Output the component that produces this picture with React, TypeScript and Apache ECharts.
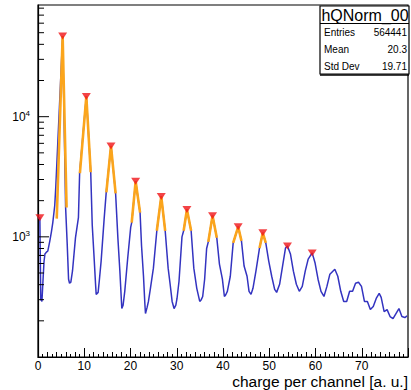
import { useEffect, useRef } from "react";
import * as echarts from "echarts";

// Histogram (bin centre, counts)
const histX = [0.1, 0.4, 0.6, 0.85, 1.07, 1.3, 1.5, 1.9, 2.13, 2.56, 2.9, 3.2, 3.62, 3.84, 5.33, 5.97, 6.3, 6.61, 6.82, 7.1, 7.46, 8.1, 8.74, 9.0, 10.45, 11.4, 11.73, 12.15, 12.45, 12.58, 13.0, 13.3, 13.65, 14.29, 14.75, 15.78, 16.78, 17.27, 17.7, 18.12, 18.4, 18.76, 19.4, 20.04, 20.26, 21.11, 22.07, 22.39, 22.81, 23.1, 23.24, 23.6, 23.88, 24.31, 24.95, 25.69, 26.65, 27.5, 28.14, 28.57, 29.0, 29.42, 29.8, 30.06, 30.49, 31.13, 31.49, 32.2, 33.11, 33.69, 34.33, 34.97, 35.3, 35.61, 36.03, 36.46, 36.82, 37.74, 38.66, 39.23, 39.87, 40.3, 40.6, 40.94, 41.58, 42.2, 43.28, 43.99, 44.56, 45.2, 45.63, 46.06, 46.48, 47.12, 47.9, 48.61, 49.25, 49.89, 50.53, 51.17, 51.6, 52.24, 52.88, 53.52, 53.94, 54.58, 55.22, 55.86, 56.5, 57.14, 57.78, 58.42, 59.28, 59.91, 60.55, 61.19, 61.83, 62.47, 63.11, 63.75, 64.18, 64.82, 65.46, 66.1, 66.74, 67.38, 68.02, 68.66, 69.3, 69.94, 70.58, 71.22, 71.86, 72.49, 73.13, 73.77, 74.2, 74.84, 75.48, 76.12, 76.76, 77.4, 78.04, 78.68, 79.32, 79.8];
const histY = [1440, 1440, 300, 290, 427, 620, 720, 750, 763, 926, 1100, 1311, 1822, 2581, 47000, 1753, 900, 444, 411, 420, 520, 981, 1444, 3383, 14730, 3450, 1250, 650, 400, 332, 345, 450, 628, 1390, 2343, 5706, 2298, 981, 520, 253, 270, 352, 666, 1200, 1311, 2899, 1591, 840, 470, 280, 230, 260, 290, 373, 549, 1123, 2168, 1123, 549, 403, 290, 253, 270, 307, 427, 1000, 1123, 1687, 1123, 549, 373, 290, 300, 319, 444, 800, 908, 1501, 981, 593, 444, 319, 330, 352, 470, 890, 1213, 926, 571, 470, 352, 332, 373, 518, 808, 1080, 890, 628, 470, 366, 345, 403, 571, 808, 840, 720, 518, 403, 352, 387, 518, 653, 735, 605, 444, 352, 319, 387, 489, 518, 538, 470, 352, 290, 290, 352, 352, 411, 419, 387, 290, 290, 248, 263, 307, 338, 313, 239, 248, 217, 209, 230, 253, 217, 213, 220];

// Found peaks (red markers)
const peakX = [0.4, 5.33, 10.45, 15.78, 21.11, 26.65, 32.2, 37.74, 43.28, 48.61, 53.94, 59.28];
const peakY = [1444, 47000, 14730, 5706, 2899, 2168, 1687, 1501, 1213, 1080, 840, 735];

// Gaussian fits around peaks 1..9 (orange): left end, apex, right end
const fitLeftX = [4.05, 9.06, 14.78, 20.26, 25.69, 31.49, 36.82, 42.2, 47.9];
const fitLeftY = [1417, 3383, 2343, 1311, 1123, 1123, 908, 890, 808];
const fitRightX = [6.18, 11.4, 16.78, 22.07, 27.5, 33.11, 38.66, 43.99, 49.25];
const fitRightY = [1753, 3450, 2298, 1591, 1123, 1123, 981, 926, 890];

// Axis ticks
const xLabels = [0, 10, 20, 30, 40, 50, 60, 70];
const yMajor = [1000, 10000];
const yMinor = [200, 300, 400, 500, 600, 700, 800, 900, 2000, 3000, 4000, 5000, 6000, 7000, 8000, 9000, 20000, 30000, 40000, 50000, 60000, 70000, 80000];

// Stats box
const statsTitle = "hQNorm_00";
const statsNames = ["Entries", "Mean", "Std Dev"];
const statsValues = ["564441", "20.3", "19.71"];

const FONT = "Liberation Sans, Arial, Helvetica, sans-serif";

export default function App() {
  const ref = useRef<HTMLDivElement>(null);
  useEffect(() => {
    const chart = echarts.init(ref.current!, null, { renderer: "svg" });
    const fitSeries = fitLeftX.map((xl, i) => ({
      type: "line",
      data: [
        [xl, fitLeftY[i]],
        [peakX[i + 1], peakY[i + 1]],
        [fitRightX[i], fitRightY[i]],
      ],
      symbol: "none",
      lineStyle: { color: "#fba51c", width: 2.6 },
      z: 3,
      silent: true,
    }));
    const yTicks = [
      ...yMinor.map((v) => [0, v, 6]),
      ...yMajor.map((v) => [0, v, 11]),
    ];
    const rowsY = [32, 49, 66];
    const graphics: any[] = [
      {
        type: "rect",
        shape: { x: 320, y: 6, width: 89, height: 68 },
        style: { fill: "#fff", stroke: "#000", lineWidth: 1.2 },
        z: 10,
      },
      {
        type: "line",
        shape: { x1: 320, y1: 75, x2: 409, y2: 75 },
        style: { stroke: "#000", lineWidth: 1.5 },
        z: 10,
      },
      {
        type: "line",
        shape: { x1: 320, y1: 23.5, x2: 409, y2: 23.5 },
        style: { stroke: "#000", lineWidth: 1 },
        z: 11,
      },
      {
        type: "text",
        x: 365,
        y: 15,
        style: { text: statsTitle, font: `16px ${FONT}`, fill: "#000", align: "center", verticalAlign: "middle" },
        z: 11,
      },
      ...statsNames.map((n, i) => ({
        type: "text",
        x: 324,
        y: rowsY[i],
        style: { text: n, font: `10px ${FONT}`, fill: "#000", align: "left", verticalAlign: "middle" },
        z: 11,
      })),
      ...statsValues.map((v, i) => ({
        type: "text",
        x: 407,
        y: rowsY[i],
        style: { text: v, font: `10px ${FONT}`, fill: "#000", align: "right", verticalAlign: "middle" },
        z: 11,
      })),
      {
        type: "text",
        x: 408,
        y: 381,
        style: { text: "charge per channel [a. u.]", font: `15.5px ${FONT}`, fill: "#000", align: "right", verticalAlign: "middle" },
      },
    ];
    chart.setOption({
      animation: false,
      backgroundColor: "#fff",
      grid: { left: 38, right: -2, top: 5, bottom: 33, show: true, borderColor: "#000", borderWidth: 1.2 },
      xAxis: [
        {
          type: "value",
          min: 0,
          max: 80,
          interval: 10,
          position: "bottom",
          axisLine: { show: true, onZero: false, lineStyle: { color: "#000", width: 1.2 } },
          axisTick: { show: true, inside: true, length: 9, lineStyle: { color: "#000", width: 1 } },
          minorTick: { show: true, splitNumber: 10, length: 3, lineStyle: { color: "#000", width: 1 } },
          splitLine: { show: false },
          axisLabel: {
            color: "#000",
            fontSize: 12,
            fontFamily: FONT,
            margin: 3,
            formatter: (v: number) => (xLabels.includes(v) ? String(v) : ""),
          },
        },
        {
          type: "value",
          min: 0,
          max: 80,
          interval: 2,
          position: "bottom",
          axisLine: { show: false },
          axisTick: { show: true, inside: true, length: 5, lineStyle: { color: "#000", width: 1 } },
          splitLine: { show: false },
          axisLabel: { show: false },
        },
      ],
      yAxis: {
        type: "log",
        logBase: 10,
        min: 100,
        max: 85000,
        axisLine: { show: true, onZero: false, lineStyle: { color: "#000", width: 1.2 } },
        axisTick: { show: false },
        splitLine: { show: false },
        axisLabel: {
          color: "#000",
          margin: 8,
          formatter: (v: number) => {
            const i = yMajor.findIndex((m) => Math.abs(m - v) / m < 1e-6);
            if (i < 0) return "";
            return `{b|10}{s|${Math.round(Math.log10(yMajor[i]))}}`;
          },
          rich: {
            b: { fontSize: 12, fontFamily: FONT, color: "#000", lineHeight: 14 },
            s: { fontSize: 8, fontFamily: FONT, color: "#000", verticalAlign: "top", lineHeight: 14 },
          },
        },
      },
      graphic: graphics,
      series: [
        {
          type: "custom",
          silent: true,
          clip: false,
          data: yTicks,
          encode: { x: 0, y: 1 },
          renderItem: (_p: any, api: any) => {
            const pt = api.coord([api.value(0), api.value(1)]);
            const len = api.value(2);
            return {
              type: "line",
              shape: { x1: pt[0], y1: pt[1], x2: pt[0] + len, y2: pt[1] },
              style: { stroke: "#000", lineWidth: 1 },
            };
          },
          z: 4,
        },
        {
          type: "line",
          data: histX.map((x, i) => [x, histY[i]]),
          symbol: "none",
          lineStyle: { color: "#3333c0", width: 1.5 },
          z: 2,
          silent: true,
        },
        ...fitSeries,
        {
          type: "scatter",
          data: peakX.map((x, i) => [x, peakY[i]]),
          symbol: "triangle",
          symbolRotate: 180,
          symbolSize: [9, 7],
          itemStyle: { color: "#f01418" },
          clip: false,
          z: 5,
          silent: true,
        },
      ],
    });
    return () => chart.dispose();
  }, []);
  return (
    <div
      ref={ref}
      style={{ position: "absolute", left: 0, top: 0, width: 411, height: 390, background: "#fff" }}
    />
  );
}
